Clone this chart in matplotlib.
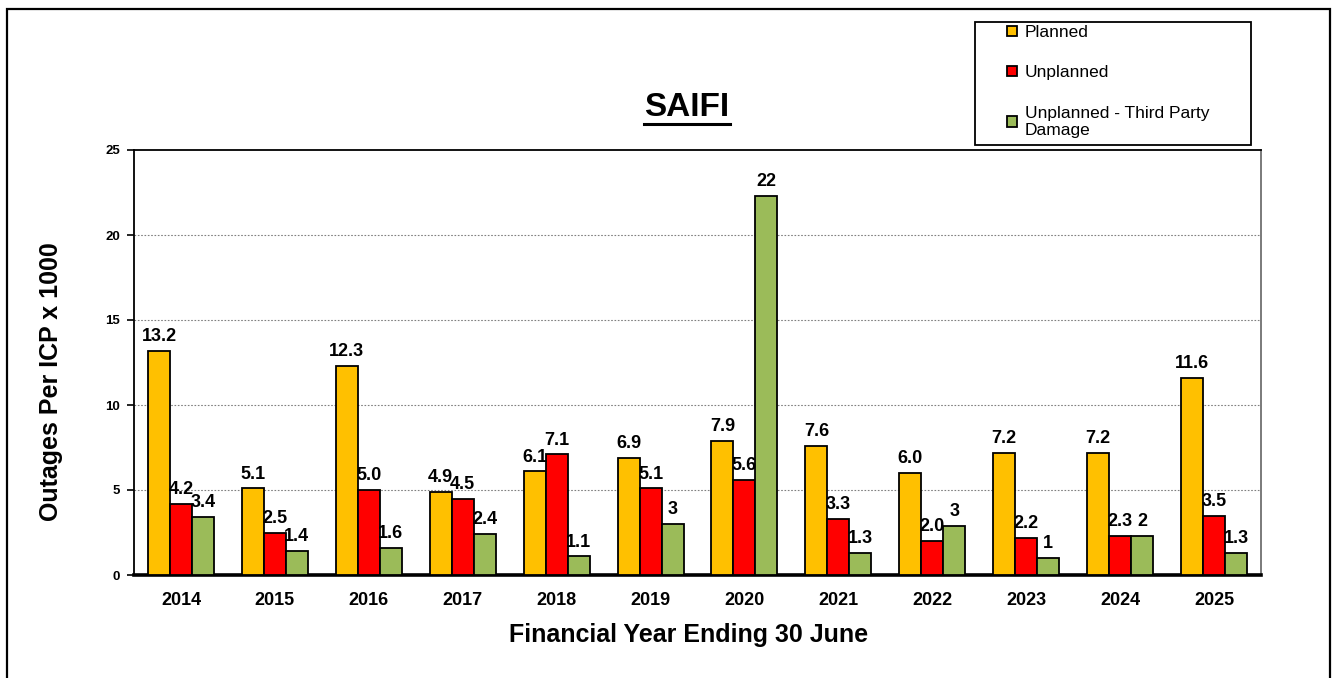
import matplotlib
matplotlib.use("Agg")
import matplotlib.pyplot as plt
import numpy as np
from matplotlib.patches import Patch, Rectangle
from matplotlib.lines import Line2D

plt.rcParams['font.family'] = ['Liberation Sans', 'DejaVu Sans']

years = ['2014', '2015', '2016', '2017', '2018', '2019',
         '2020', '2021', '2022', '2023', '2024', '2025']
planned = [13.2, 5.1, 12.3, 4.9, 6.1, 6.9, 7.9, 7.6, 6.0, 7.2, 7.2, 11.6]
unplanned = [4.2, 2.5, 5.0, 4.5, 7.1, 5.1, 5.6, 3.3, 2.0, 2.2, 2.3, 3.5]
third_party = [3.4, 1.4, 1.6, 2.4, 1.1, 3.0, 22.3, 1.3, 2.9, 1.0, 2.3, 1.3]

planned_lbl = ['13.2', '5.1', '12.3', '4.9', '6.1', '6.9', '7.9', '7.6', '6.0', '7.2', '7.2', '11.6']
unplanned_lbl = ['4.2', '2.5', '5.0', '4.5', '7.1', '5.1', '5.6', '3.3', '2.0', '2.2', '2.3', '3.5']
third_lbl = ['3.4', '1.4', '1.6', '2.4', '1.1', '3', '22', '1.3', '3', '1', '2', '1.3']

series = [
    ('Planned', planned, planned_lbl, '#FFC000'),
    ('Unplanned', unplanned, unplanned_lbl, '#FF0000'),
    ('Unplanned - Third Party\nDamage', third_party, third_lbl, '#9BBB59'),
]

fig = plt.figure(figsize=(13.33, 6.78), dpi=100)
ax = fig.add_axes([134/1333, 1-575/678, 1127/1333, 425/678])

x = np.arange(len(years))
w = 0.234
for i, (name, vals, lbls, col) in enumerate(series):
    pos = x + (i-1)*w
    ax.bar(pos, vals, width=w, color=col, edgecolor='black', linewidth=1.3, zorder=3)
    for px, v, t in zip(pos, vals, lbls):
        ax.annotate(t, (px, v), xytext=(0, 7), textcoords='offset points',
                    ha='center', va='baseline', fontsize=13, fontweight='bold', zorder=4)

ax.set_xlim(-0.5, len(years)-0.5)
ax.set_ylim(0, 25)
ax.set_yticks([0, 5, 10, 15, 20, 25])
ax.set_xticks(x)
ax.set_xticklabels(years)
ax.tick_params(axis='x', length=0, labelsize=13, pad=12)
ax.tick_params(axis='y', length=5, width=1.2, labelsize=9.5, pad=5)
for lab in ax.get_xticklabels() + ax.get_yticklabels():
    lab.set_fontweight('bold')

for yv in [5, 10, 15, 20]:
    ax.axhline(yv, color='#808080', linestyle=(0, (1.5, 1.5)), linewidth=0.8, zorder=1)

ax.spines['bottom'].set_linewidth(2.6)
ax.spines['left'].set_linewidth(1.3)
ax.spines['top'].set_linewidth(1.3)
ax.spines['right'].set_color('#707070')
ax.spines['right'].set_linewidth(1.3)

ax.set_xlabel('Financial Year Ending 30 June', fontsize=18, fontweight='bold')
ax.xaxis.set_label_coords(0.492, -0.112)
ax.set_ylabel('Outages Per ICP x 1000', fontsize=18, fontweight='bold')
ax.yaxis.set_label_coords(-0.063, 0.455)

# title with underline
title = fig.text(687/1333, 1-108/678, 'SAIFI', ha='center', va='center',
                 fontsize=24, fontweight='bold')
fig.canvas.draw()
bb = title.get_window_extent()
uy = 1-124/678
fig.add_artist(Line2D([bb.x0/1333, bb.x1/1333], [uy, uy], color='black', linewidth=2.2))

# legend
handles = [Patch(facecolor=c, edgecolor='black', linewidth=1.3) for _, _, _, c in series]
labels = [n for n, _, _, _ in series]
fig.legend(handles, labels, loc='upper left', bbox_to_anchor=(995/1333, 1-13/678),
           frameon=False, fontsize=12.5, handlelength=0.55, handleheight=0.55,
           handletextpad=0.45, labelspacing=1.45, borderpad=0.2)
fig.add_artist(Rectangle((975/1333, 1-145/678), 276/1333, 123/678, fill=False,
                         edgecolor='black', linewidth=1.3, transform=fig.transFigure))

# outer border
fig.add_artist(Rectangle((7/1333, -0.05), 1323/1333, 1-9/678+0.05, fill=False,
                         edgecolor='black', linewidth=1.6, transform=fig.transFigure))

fig.savefig('out.png', dpi=100)
